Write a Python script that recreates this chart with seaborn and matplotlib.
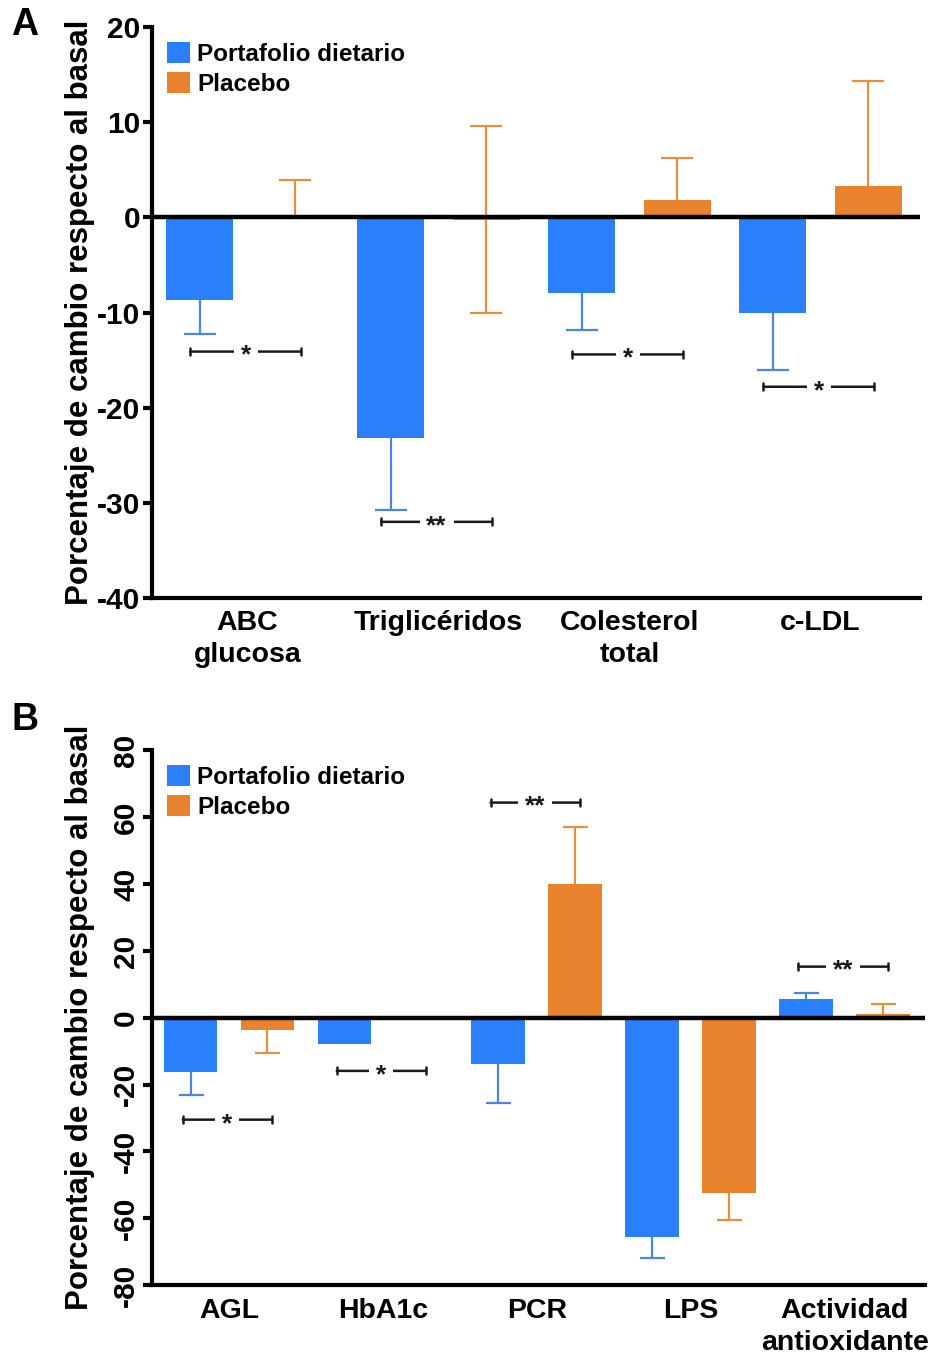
import matplotlib
matplotlib.use('Agg')
import matplotlib.pyplot as plt
import seaborn as sns
import pandas as pd

# Panel A: lipid / glucose markers
A_categorias = ["ABC\nglucosa", "Triglicéridos", "Colesterol\ntotal", "c-LDL"]
A_portafolio = [-8.7, -23.2, -7.9, -10.0]
A_placebo = [0.0, -0.3, 1.8, 3.3]
A_port_err_inf = [3.5, 7.6, 3.9, 6.0]
A_port_err_sup = [0.0, 0.0, 0.0, 0.0]
A_plac_err_inf = [0.0, 9.7, 0.0, 0.0]
A_plac_err_sup = [3.9, 9.6, 4.5, 11.0]
A_signif = [(0, -14.1, "*"), (1, -32.0, "**"), (2, -14.4, "*"), (3, -17.8, "*")]
A_yticks = [-40, -30, -20, -10, 0, 10, 20]

# Panel B: inflammation / oxidative markers
B_categorias = ["AGL", "HbA1c", "PCR", "LPS", "Actividad\nantioxidante"]
B_portafolio = [-16.2, -7.8, -13.8, -65.6, 5.7]
B_placebo = [-3.6, 0.0, 40.0, -52.4, 1.0]
B_port_err_inf = [6.8, 0.0, 11.6, 6.4, 0.0]
B_port_err_sup = [0.0, 0.0, 0.0, 0.0, 1.8]
B_plac_err_inf = [6.9, 0.0, 0.0, 8.1, 0.0]
B_plac_err_sup = [0.0, 0.0, 17.2, 0.0, 3.0]
B_signif = [(0, -30.5, "*"), (1, -15.9, "*"), (2, 64.4, "**"), (4, 15.3, "**")]
B_yticks = [-80, -60, -40, -20, 0, 20, 40, 60, 80]

grupos = ["Portafolio dietario", "Placebo"]
colores = {"Portafolio dietario": "#2A80FA", "Placebo": "#E8822C"}
colores_err = {"Portafolio dietario": "#4A88E0", "Placebo": "#E0923E"}

sns.set_style("ticks")
plt.rcParams['font.family'] = ['Liberation Sans', 'DejaVu Sans']
plt.rcParams['font.weight'] = 'bold'
plt.rcParams['axes.unicode_minus'] = False
plt.rcParams['text.color'] = 'black'
plt.rcParams['xtick.color'] = 'black'
plt.rcParams['ytick.color'] = 'black'
plt.rcParams['axes.labelcolor'] = 'black'


def panel(ax, cats, port, plac, errs, signif, yticks, capsize, rot_ticks):
    df = pd.DataFrame({
        "categoria": cats * 2,
        "valor": port + plac,
        "grupo": [grupos[0]] * len(cats) + [grupos[1]] * len(cats),
    })
    sns.barplot(data=df, x="categoria", y="valor", hue="grupo", hue_order=grupos,
                palette=colores, saturation=1, width=1.0, gap=0.3,
                errorbar=None, linewidth=0, ax=ax)

    # one-sided error bars, placed on the bars seaborn drew
    for cont, g, (inf, sup) in zip(ax.containers, grupos, errs):
        for bar, lo, hi in zip(cont, inf, sup):
            xc = bar.get_x() + bar.get_width() / 2
            y0 = bar.get_y()
            y1 = bar.get_y() + bar.get_height()
            top, bottom = max(y0, y1), min(y0, y1)
            for d, extremo in ((hi, top + hi), (-lo, bottom - lo)):
                if d == 0:
                    continue
                base = top if d > 0 else bottom
                ax.plot([xc, xc], [base, extremo], color=colores_err[g],
                        lw=1.6, zorder=1, solid_capstyle="butt")
                ax.plot([xc], [extremo], marker="_", ms=2 * capsize, mew=1.6,
                        color=colores_err[g], zorder=1)

    # significance brackets
    for i, y, txt in signif:
        b = ax.containers[0][i]
        o = ax.containers[1][i]
        x1 = b.get_x() + b.get_width() / 2 - 0.05
        x2 = o.get_x() + o.get_width() / 2 + 0.03
        ax.annotate("", xy=(x1, y), xytext=(x2, y),
                    arrowprops=dict(arrowstyle="|-|, widthA=0.25, widthB=0.25",
                                    lw=1.8, color="#1a1a1a", shrinkA=0, shrinkB=0))
        ax.annotate(txt, xy=((x1 + x2) / 2, y), xytext=(0, -3),
                    textcoords="offset points", ha="center", va="center",
                    fontsize=19, fontweight="bold", color="#1a1a1a",
                    bbox=dict(facecolor="white", edgecolor="none", pad=5))

    ax.axhline(0, color="black", lw=3.2, zorder=5)
    ax.set_xlim(-0.5, len(cats) - 0.48)
    ax.set_ylim(yticks[0], yticks[-1])
    ax.set_yticks(yticks)
    ax.set_xlabel("")
    ax.set_ylabel("Porcentaje de cambio respecto al basal", fontsize=22.5,
                  fontweight="bold")
    ax.yaxis.set_label_coords(-0.074, 0.5)
    sns.despine(ax=ax)
    for s in ["left", "bottom"]:
        ax.spines[s].set_linewidth(3)
        ax.spines[s].set_color("black")
    ax.tick_params(axis="y", length=6.5, width=3, labelsize=21.5, pad=2)
    ax.tick_params(axis="x", length=0, labelsize=20.5, pad=9)
    for lab in ax.get_xticklabels() + ax.get_yticklabels():
        lab.set_fontweight("bold")
        lab.set_linespacing(1.3)
    if rot_ticks:
        for lab in ax.get_yticklabels():
            lab.set_rotation(90)
            lab.set_va("center")
    ax.legend(loc="upper left", frameon=False, handlelength=0.95,
              handleheight=0.95, handletextpad=0.3, labelspacing=0.25,
              borderaxespad=0.3, borderpad=0.3,
              prop={"size": 17.5, "weight": "bold"})


fig = plt.figure(figsize=(9.33, 13.62), dpi=100)
axA = fig.add_axes([0.163, 0.561, 0.823, 0.419])
axB = fig.add_axes([0.163, 0.0565, 0.828, 0.3925])

panel(axA, A_categorias, A_portafolio, A_placebo,
      [(A_port_err_inf, A_port_err_sup), (A_plac_err_inf, A_plac_err_sup)],
      A_signif, A_yticks, 11.5, False)
panel(axB, B_categorias, B_portafolio, B_placebo,
      [(B_port_err_inf, B_port_err_sup), (B_plac_err_inf, B_plac_err_sup)],
      B_signif, B_yticks, 9, True)

fig.text(0.012, 0.982, "A", fontsize=27, fontweight="bold", va="center")
fig.text(0.012, 0.471, "B", fontsize=27, fontweight="bold", va="center")

fig.savefig("out.png", dpi=100)
